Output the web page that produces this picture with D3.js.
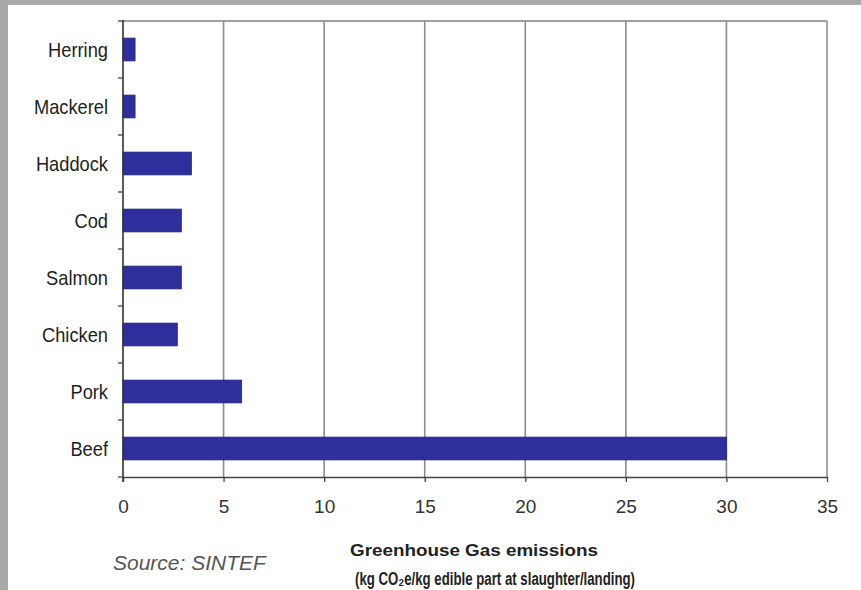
<!DOCTYPE html>
<html>
<head>
<meta charset="utf-8">
<script src="https://cdn.jsdelivr.net/npm/d3@7"></script>
<style>
  html, body { margin: 0; padding: 0; background: #a9a9a9; }
  svg { display: block; }
</style>
</head>
<body>
<svg id="chart" width="861" height="590"></svg>
<script>
// Greenhouse gas emissions per food type (kg CO2e / kg edible part)
const foods = ["Herring", "Mackerel", "Haddock", "Cod", "Salmon", "Chicken", "Pork", "Beef"];
const emissions = [0.6, 0.6, 3.4, 2.9, 2.9, 2.7, 5.9, 30];
const xTicks = [0, 5, 10, 15, 20, 25, 30, 35];
const sourceNote = "Source: SINTEF";
const titleLine1 = "Greenhouse Gas emissions";
const titleLine2 = "(kg CO\u2082e/kg edible part at slaughter/landing)";

const svg = d3.select("#chart");

// white sheet over grey backdrop
svg.append("rect").attr("x", 8).attr("y", 5).attr("width", 853).attr("height", 585).attr("fill", "#ffffff");

const plot = { left: 123, right: 827, top: 21, bottom: 477 };

const x = d3.scaleLinear().domain([0, 35]).range([plot.left, plot.right]);
const y = d3.scaleBand().domain(foods).range([plot.top, plot.bottom]).paddingInner(0.6).paddingOuter(0.3);

// top border of plot area
svg.append("line")
  .attr("x1", plot.left).attr("x2", plot.right)
  .attr("y1", plot.top).attr("y2", plot.top)
  .attr("stroke", "#a0a0a0").attr("stroke-width", 2);

// vertical gridlines
svg.append("g").selectAll("line")
  .data(xTicks.filter(t => t > 0))
  .join("line")
  .attr("x1", d => x(d)).attr("x2", d => x(d))
  .attr("y1", plot.top).attr("y2", plot.bottom)
  .attr("stroke", "#8c8c8c").attr("stroke-width", 1.6);

// bars
const data = foods.map((f, i) => ({ food: f, value: emissions[i] }));
svg.append("g").selectAll("rect")
  .data(data)
  .join("rect")
  .attr("x", x(0))
  .attr("y", d => y(d.food))
  .attr("width", d => x(d.value) - x(0))
  .attr("height", y.bandwidth())
  .attr("fill", "#2e2e9c")
  .attr("stroke", "#24247e")
  .attr("stroke-width", 0.8);

// bottom axis
const xAxis = d3.axisBottom(x).tickValues(xTicks).tickSize(5).tickPadding(18).tickSizeOuter(0);
const gx = svg.append("g").attr("transform", `translate(0,${plot.bottom})`).call(xAxis);
gx.select(".domain").attr("stroke", "#444").attr("stroke-width", 1.5);
gx.selectAll(".tick line").attr("stroke", "#444").attr("stroke-width", 1.3);
gx.selectAll(".tick text")
  .attr("font-family", "Liberation Sans, Arial, sans-serif")
  .attr("font-size", 19).attr("fill", "#333");

// left axis: ticks at category boundaries
const boundaries = d3.range(foods.length + 1).map(i => plot.top + i * y.step());
svg.append("line")
  .attr("x1", plot.left).attr("x2", plot.left)
  .attr("y1", plot.top - 1).attr("y2", plot.bottom + 5)
  .attr("stroke", "#333").attr("stroke-width", 1.6);
svg.append("g").selectAll("line")
  .data(boundaries)
  .join("line")
  .attr("x1", plot.left - 5).attr("x2", plot.left)
  .attr("y1", d => d).attr("y2", d => d)
  .attr("stroke", "#444").attr("stroke-width", 1.3);

// category labels (narrow sans)
svg.append("g").selectAll("text")
  .data(foods)
  .join("text")
  .attr("transform", d => `translate(108,${y(d) + y.bandwidth() / 2}) scale(0.87,1)`)
  .attr("text-anchor", "end")
  .attr("dominant-baseline", "central")
  .attr("font-family", "Liberation Sans, Arial, sans-serif")
  .attr("font-size", 21)
  .attr("fill", "#1e1e1e")
  .text(d => d);

// source note
svg.append("text")
  .attr("x", 113).attr("y", 570)
  .attr("font-family", "Liberation Sans, Arial, sans-serif")
  .attr("font-style", "italic")
  .attr("font-size", 21)
  .attr("fill", "#555")
  .text(sourceNote);

// axis title, two lines
svg.append("text")
  .attr("x", 474).attr("y", 556)
  .attr("text-anchor", "middle")
  .attr("font-family", "Liberation Sans, Arial, sans-serif")
  .attr("font-weight", "bold")
  .attr("font-size", 17)
  .attr("textLength", 248).attr("lengthAdjust", "spacingAndGlyphs")
  .attr("fill", "#222")
  .text(titleLine1);

svg.append("text")
  .attr("x", 495).attr("y", 585)
  .attr("text-anchor", "middle")
  .attr("font-family", "Liberation Sans, Arial, sans-serif")
  .attr("font-weight", "bold")
  .attr("font-size", 18)
  .attr("textLength", 280).attr("lengthAdjust", "spacingAndGlyphs")
  .attr("fill", "#222")
  .text(titleLine2);
</script>
</body>
</html>
